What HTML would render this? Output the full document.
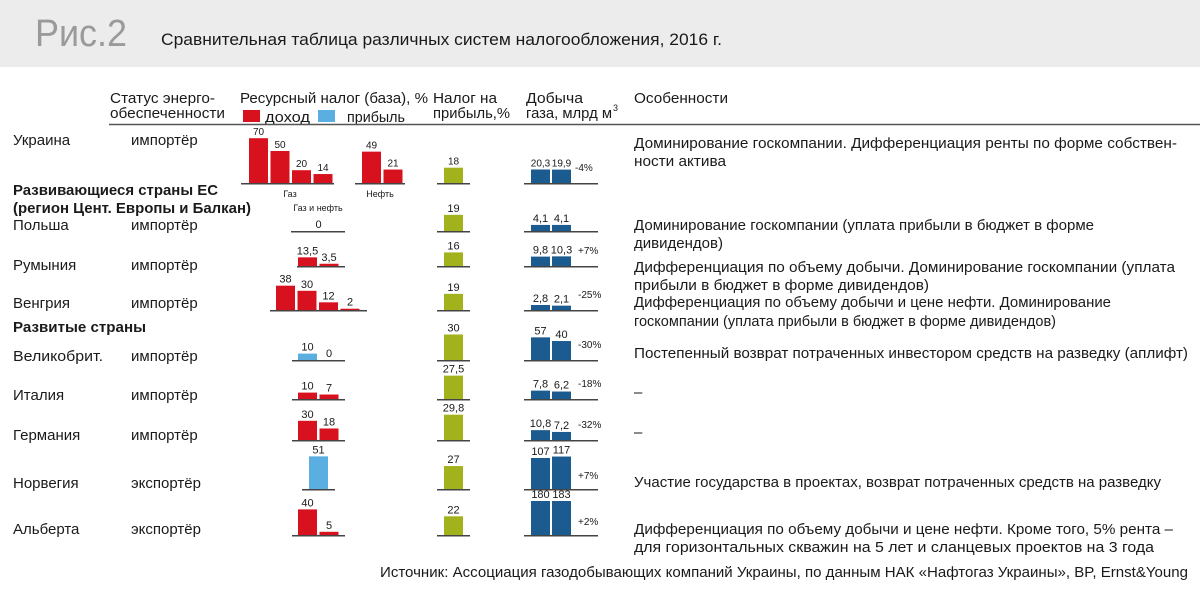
<!DOCTYPE html>
<html><head><meta charset="utf-8"><style>
html,body{margin:0;padding:0;background:#fff}
svg{display:block}
text{font-family:"Liberation Sans","Noto Sans CJK SC",sans-serif;fill:#1a1a1a}
</style></head><body>
<svg id="chart" width="1200" height="590" viewBox="0 0 1200 590" xmlns="http://www.w3.org/2000/svg">
<rect x="0" y="0" width="1200" height="67" fill="#ececec"/>
<text x="35" y="46" font-size="38" style="fill:#9a9a9a" textLength="92" lengthAdjust="spacingAndGlyphs">Рис.2</text>
<text x="161" y="45" font-size="17" textLength="561" lengthAdjust="spacingAndGlyphs">Сравнительная таблица различных систем налогообложения, 2016 г.</text>

<g font-size="15">
<text x="110" y="103" textLength="105" lengthAdjust="spacingAndGlyphs">Статус энерго-</text>
<text x="110" y="118" textLength="115" lengthAdjust="spacingAndGlyphs">обеспеченности</text>
<text x="240" y="103" textLength="188" lengthAdjust="spacingAndGlyphs">Ресурсный налог (база), %</text>
<rect x="243" y="110" width="17" height="12" fill="#d7111e"/>
<text x="265" y="122" textLength="45" lengthAdjust="spacingAndGlyphs">доход</text>
<rect x="318" y="110" width="17" height="12" fill="#5aaee0"/>
<text x="347" y="122" textLength="58" lengthAdjust="spacingAndGlyphs">прибыль</text>
<text x="433" y="103" textLength="64" lengthAdjust="spacingAndGlyphs">Налог на</text>
<text x="433" y="118" textLength="77" lengthAdjust="spacingAndGlyphs">прибыль,%</text>
<text x="526" y="103" textLength="57" lengthAdjust="spacingAndGlyphs">Добыча</text>
<text x="526" y="118" textLength="86" lengthAdjust="spacingAndGlyphs">газа, млрд м</text>
<text x="613" y="111" font-size="9">3</text>
<text x="634" y="103" textLength="94" lengthAdjust="spacingAndGlyphs">Особенности</text>
</g>
<line x1="109" y1="124.5" x2="1200" y2="124.5" stroke="#555" stroke-width="1.5"/>

<g font-size="15">
<text x="13" y="145">Украина</text>
<text x="131" y="145">импортёр</text>
<text x="13" y="195" font-weight="bold" textLength="205" lengthAdjust="spacingAndGlyphs">Развивающиеся страны ЕС</text>
<text x="13" y="213" font-weight="bold" textLength="238" lengthAdjust="spacingAndGlyphs">(регион Цент. Европы и Балкан)</text>
<text x="13" y="230">Польша</text>
<text x="131" y="230">импортёр</text>
<text x="13" y="270">Румыния</text>
<text x="131" y="270">импортёр</text>
<text x="13" y="308">Венгрия</text>
<text x="131" y="308">импортёр</text>
<text x="13" y="332" font-weight="bold" textLength="133" lengthAdjust="spacingAndGlyphs">Развитые страны</text>
<text x="13" y="361" textLength="90" lengthAdjust="spacingAndGlyphs">Великобрит.</text>
<text x="131" y="361">импортёр</text>
<text x="13" y="400">Италия</text>
<text x="131" y="400">импортёр</text>
<text x="13" y="440">Германия</text>
<text x="131" y="440">импортёр</text>
<text x="13" y="488">Норвегия</text>
<text x="131" y="488">экспортёр</text>
<text x="13" y="534">Альберта</text>
<text x="131" y="534">экспортёр</text>
</g>

<g font-size="15">
<text x="634" y="148" textLength="543" lengthAdjust="spacingAndGlyphs">Доминирование госкомпании. Дифференциация ренты по форме собствен-</text>
<text x="634" y="166" textLength="92" lengthAdjust="spacingAndGlyphs">ности актива</text>
<text x="634" y="230" textLength="460" lengthAdjust="spacingAndGlyphs">Доминирование госкомпании (уплата прибыли в бюджет в форме</text>
<text x="634" y="248" textLength="89" lengthAdjust="spacingAndGlyphs">дивидендов)</text>
<text x="634" y="272" textLength="541" lengthAdjust="spacingAndGlyphs">Дифференциация по объему добычи. Доминирование госкомпании (уплата</text>
<text x="634" y="290" textLength="295" lengthAdjust="spacingAndGlyphs">прибыли в бюджет в форме дивидендов)</text>
<text x="634" y="307" textLength="477" lengthAdjust="spacingAndGlyphs">Дифференциация по объему добычи и цене нефти. Доминирование</text>
<text x="634" y="326" textLength="422" lengthAdjust="spacingAndGlyphs">госкомпании (уплата прибыли в бюджет в форме дивидендов)</text>
<text x="634" y="358" textLength="554" lengthAdjust="spacingAndGlyphs">Постепенный возврат потраченных инвестором средств на разведку (аплифт)</text>
<text x="634" y="397">–</text>
<text x="634" y="437">–</text>
<text x="634" y="487" textLength="527" lengthAdjust="spacingAndGlyphs">Участие государства в проектах, возврат потраченных средств на разведку</text>
<text x="634" y="534" textLength="539" lengthAdjust="spacingAndGlyphs">Дифференциация по объему добычи и цене нефти. Кроме того, 5% рента –</text>
<text x="634" y="552" textLength="520" lengthAdjust="spacingAndGlyphs">для горизонтальных скважин на 5 лет и сланцевых проектов на 3 года</text>
</g>
<text x="380" y="577" font-size="15" textLength="808" lengthAdjust="spacingAndGlyphs">Источник: Ассоциация газодобывающих компаний Украины, по данным НАК «Нафтогаз Украины», BP, Ernst&amp;Young</text>

<text x="290" y="197" font-size="9" text-anchor="middle">Газ</text>
<text x="380" y="197" font-size="9" text-anchor="middle">Нефть</text>
<text x="318" y="211" font-size="9" text-anchor="middle">Газ и нефть</text>
<g id="marks"></g>
</svg>
<script>
// ---- data ----
const rowNames = ['Украина','Польша','Румыния','Венгрия','Великобрит.','Италия','Германия','Норвегия','Альберта'];
const taxGas = [70,50,20,14];
const taxOil = [49,21];
const taxPoland = [0];
const taxRomania = [13.5,3.5];
const taxHungary = [38,30,12,2];
const taxUK = [10,0];
const taxItaly = [10,7];
const taxGermany = [30,18];
const taxNorway = [51];
const taxAlberta = [40,5];
const profitTax = [18,19,16,19,30,27.5,29.8,27,22];
const gasOutputPrev = [20.3,4.1,9.8,2.8,57,7.8,10.8,107,180];
const gasOutputCurr = [19.9,4.1,10.3,2.1,40,6.2,7.2,117,183];
const gasLabelsPrev = ['20,3','4,1','9,8','2,8','57','7,8','10,8','107','180'];
const gasLabelsCurr = ['19,9','4,1','10,3','2,1','40','6,2','7,2','117','183'];
const gasChange = ['-4%','','+7%','-25%','-30%','-18%','-32%','+7%','+2%'];

// ---- layout ----
const rowBase = [183,231,266,310,360,399,440,489,535];
const RED='#d7111e', BLUE='#5aaee0', OLIVE='#a2b21c', NAVY='#1c5b8f';
const taxGroups = [
  {vals:taxGas,row:0,x0:249,color:RED,ax:[241,334],fs:10},
  {vals:taxOil,row:0,x0:362,color:RED,ax:[355,405],fs:10},
  {vals:taxPoland,row:1,x0:309,color:RED,ax:[291,345],fs:11},
  {vals:taxRomania,row:2,x0:298,color:RED,ax:[297,345],fs:11},
  {vals:taxHungary,row:3,x0:276,color:RED,ax:[270,367],fs:11},
  {vals:taxUK,row:4,x0:298,color:BLUE,ax:[292,345],fs:11},
  {vals:taxItaly,row:5,x0:298,color:RED,ax:[292,345],fs:11},
  {vals:taxGermany,row:6,x0:298,color:RED,ax:[292,345],fs:11},
  {vals:taxNorway,row:7,x0:309,color:BLUE,ax:[302,335],fs:11},
  {vals:taxAlberta,row:8,x0:298,color:RED,ax:[292,345],fs:11}
];
const BW=19, STEP=21.5;
const yTax = v => v*0.64;
const yProfit = v => v*0.85;
const yGas = v => Math.min(3.0*Math.sqrt(v), 34);
const fmt = v => String(v).replace('.',',');

const NS='http://www.w3.org/2000/svg';
const g=document.getElementById('marks');
function mk(tag, attrs){const e=document.createElementNS(NS,tag);for(const k in attrs)e.setAttribute(k,attrs[k]);g.appendChild(e);return e;}
function axis(x1,x2,y){
  const l=mk('line',{x1:x1,x2:x2,y1:y+0.75,y2:y+0.75,stroke:'#444','stroke-width':1.5});
  
  
}
function bar(x,base,h,color,label,fs,name){
  const r=mk('rect',{x:x,y:base-h,width:BW,height:Math.max(h,0),fill:color});
  
  
  const t=mk('text',{x:x+BW/2,y:base-h-3,'font-size':fs,'text-anchor':'middle'});
  t.textContent=label;
  
  
}
taxGroups.forEach(grp=>{
  const base=rowBase[grp.row];
  axis(grp.ax[0],grp.ax[1],base);
  grp.vals.forEach((v,i)=>{
    bar(grp.x0+i*STEP,base,yTax(v),grp.color,fmt(v),grp.fs,'resource-tax-bar');
  });
});
rowNames.forEach((n,i)=>{
  const base=rowBase[i];
  axis(437,470,base);
  bar(444,base,yProfit(profitTax[i]),OLIVE,fmt(profitTax[i]),i===0?10:11,'profit-tax-bar');
  axis(524,598,base);
  bar(531,base,yGas(gasOutputPrev[i]),NAVY,gasLabelsPrev[i],i===0?10:11,'gas-output-prev-bar');
  bar(552,base,yGas(gasOutputCurr[i]),NAVY,gasLabelsCurr[i],i===0?10:11,'gas-output-curr-bar');
  if(gasChange[i]){
    const t=mk('text',{x:i===0?575:578,y:base-(i>=7?10:12),'font-size':10});
    t.textContent=gasChange[i];
    
    
  }
});
</script>
</body></html>
